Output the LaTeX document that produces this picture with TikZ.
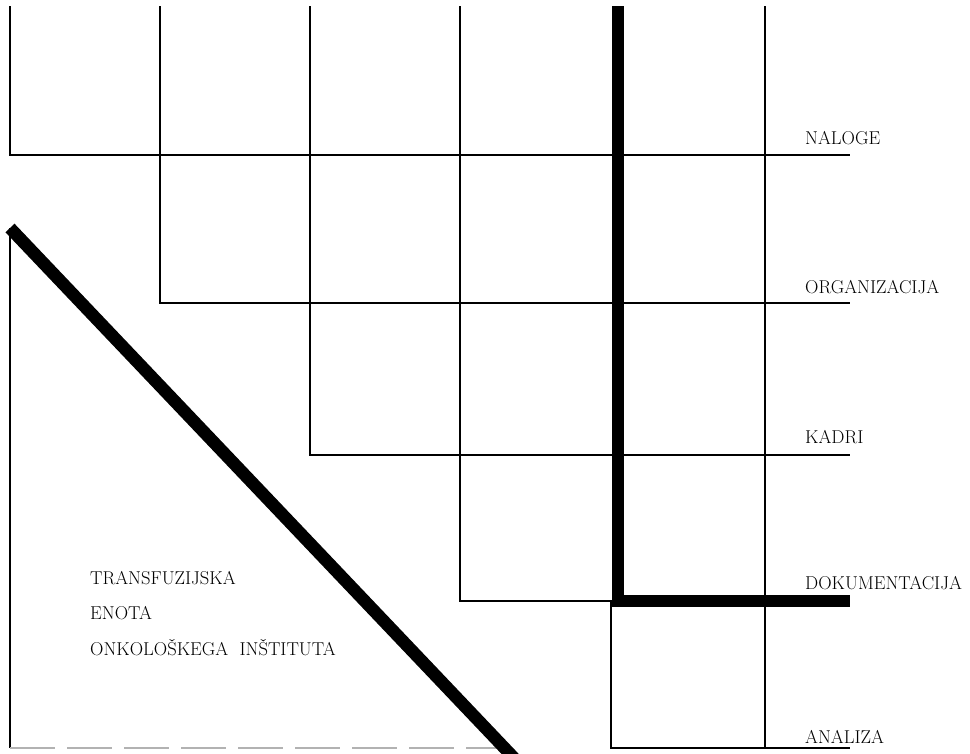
\documentclass[tikz,border=0pt]{standalone}
\begin{document}
\begin{tikzpicture}[x=1pt,y=-1pt,
  thin line/.style={line width=2pt,black},
  thick line/.style={line width=12.5pt,black},
  label/.style={anchor=west,inner sep=0pt,font=\fontsize{18.6}{21}\selectfont},
  faint/.style={line width=2pt,black!30,dash pattern=on 45pt off 12pt}]
\useasboundingbox (0,0) rectangle (970,753);
% columns
\coordinate (c1) at (10,6);
\coordinate (c2) at (160,6);
\coordinate (c3) at (310,6);
\coordinate (c4) at (460,6);
\coordinate (c5) at (618,6);
\coordinate (c6) at (765,6);
% row ends
\coordinate (e1) at (850,155);
\coordinate (e2) at (850,303);
\coordinate (e3) at (850,455);
\coordinate (e4) at (850,601);
\coordinate (e5) at (850,748);
% staircase
\draw[thin line] (c1) |- (e1);
\draw[thin line] (c2) |- (e2);
\draw[thin line] (c3) |- (e3);
\draw[thin line] (c4) |- (e4);
\draw[thin line] (c6) -- (765,748);
\draw[thin line] (611,601) -- (611,748) -- (e5);
% thick L
\draw[thick line,line join=miter] (c5) -- (618,601) -- (e4);
% triangle
\coordinate (t1) at (10,228);
\coordinate (t2) at (514,758);
\draw[thin line] (t1) -- (10,748);
\draw[faint] (10,748) -- (520,748);
\draw[thick line] (t1) -- (t2);
% labels
\node[label] (l1) at (805,138) {NALOGE};
\node[label] (l2) at (805,287) {ORGANIZACIJA};
\node[label] (l3) at (805,437) {KADRI};
\node[label] (l4) at (805,583) {DOKUMENTACIJA};
\node[label] (l5) at (805,737) {ANALIZA};
\node[label] (s1) at (90,578) {TRANSFUZIJSKA};
\node[label] (s2) at (90,613) {ENOTA};
\node[label] (s3) at (90,648) {ONKOLOŠKEGA\ \ INŠTITUTA};
\end{tikzpicture}
\end{document}
